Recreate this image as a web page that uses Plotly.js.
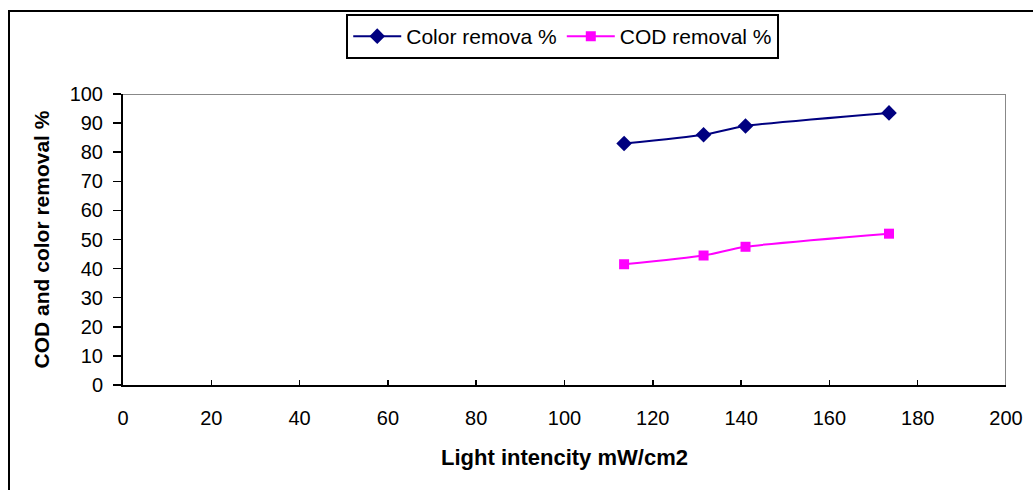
<!DOCTYPE html>
<html>
<head>
<meta charset="utf-8">
<script src="https://cdn.plot.ly/plotly-3.0.1.min.js"></script>
<style>
html,body{margin:0;padding:0;background:#fff;}
#wrap{position:relative;width:1033px;height:490px;overflow:hidden;}
#frame{position:absolute;left:8px;top:10px;width:1100px;height:600px;border:2px solid #000;box-sizing:border-box;pointer-events:none;}
#chart{position:absolute;left:0;top:0;width:1033px;height:490px;}
</style>
</head>
<body>
<div id="wrap">
<div id="chart"></div>
<div id="frame"></div>
</div>
<script>
const lightIntensity = [113.5, 131.5, 141, 173.5];
const colorRemoval = [83, 86, 89, 93.5];
const codRemoval = [41.5, 44.5, 47.5, 52];
const seriesNames = ["Color remova %", "COD removal %"];
const xTicks = [0, 20, 40, 60, 80, 100, 120, 140, 160, 180, 200];
const yTicks = [0, 10, 20, 30, 40, 50, 60, 70, 80, 90, 100];

const font = "Liberation Sans, Arial, sans-serif";

const traces = [
  {
    x: lightIntensity, y: colorRemoval, name: seriesNames[0],
    type: "scatter", mode: "lines+markers",
    line: {color: "#000080", width: 2, shape: "spline", smoothing: 0.6},
    marker: {symbol: "diamond", size: 12, color: "#000080"}
  },
  {
    x: lightIntensity, y: codRemoval, name: seriesNames[1],
    type: "scatter", mode: "lines+markers",
    line: {color: "#FF00FF", width: 2, shape: "spline", smoothing: 0.6},
    marker: {symbol: "square", size: 10, color: "#FF00FF"}
  }
];

const layout = {
  width: 1033, height: 490,
  margin: {l: 123, r: 27, t: 94, b: 105},
  paper_bgcolor: "#fff", plot_bgcolor: "#fff",
  font: {family: font, size: 20, color: "#000"},
  showlegend: true,
  legend: {
    orientation: "h", x: 0.498, xanchor: "center", y: 1.275, yanchor: "top",
    bordercolor: "#000", borderwidth: 2, bgcolor: "#fff",
    font: {family: font, size: 21, color: "#000"},
    itemwidth: 48
  },
  xaxis: {
    range: [0, 200], tickvals: xTicks, ticktext: xTicks.map(String),
    ticks: "inside", ticklen: 5, tickcolor: "#000", tickwidth: 1.5,
    showline: true, linecolor: "#000", linewidth: 2,
    showgrid: false, zeroline: false,
    ticklabelstandoff: 14,
    tickfont: {family: font, size: 20, color: "#000"},
    title: {text: "<b>Light intencity mW/cm2</b>", font: {family: font, size: 22, color: "#000"}, standoff: 22}
  },
  yaxis: {
    range: [0, 100], tickvals: yTicks, ticktext: yTicks.map(String),
    ticks: "outside", ticklen: 8, tickcolor: "#000", tickwidth: 1.5,
    showline: true, linecolor: "#000", linewidth: 2,
    showgrid: false, zeroline: false,
    ticklabelstandoff: 6,
    tickfont: {family: font, size: 20, color: "#000"},
    title: {text: "<b>COD and color removal %</b>", font: {family: font, size: 21, color: "#000"}, standoff: 14}
  },
  shapes: [
    {type: "line", xref: "x", yref: "y", x0: 0, x1: 200, y0: 100, y1: 100, line: {color: "#888", width: 2}},
    {type: "line", xref: "x", yref: "y", x0: 200, x1: 200, y0: 0, y1: 100, line: {color: "#888", width: 2}}
  ]
};

Plotly.newPlot("chart", traces, layout, {displayModeBar: false, staticPlot: true});
</script>
</body>
</html>
